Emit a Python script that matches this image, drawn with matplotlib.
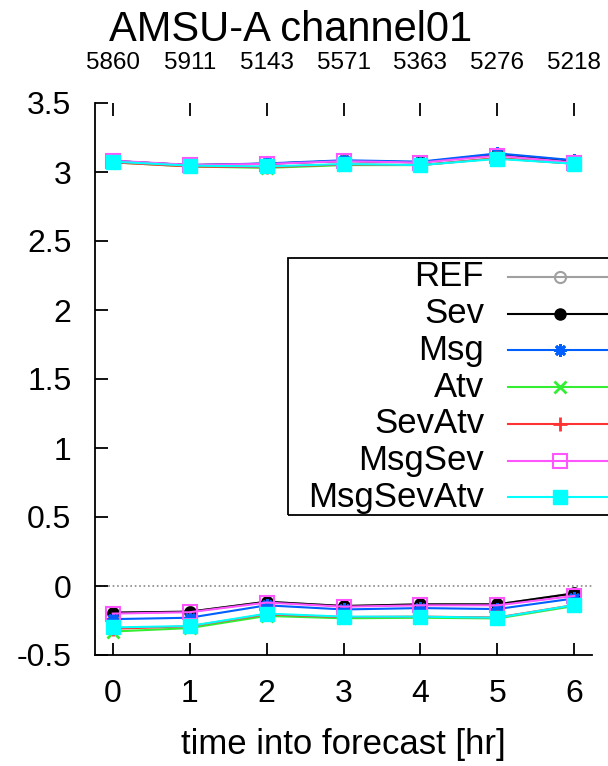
import matplotlib
matplotlib.use("Agg")
import matplotlib.pyplot as plt
from matplotlib.lines import Line2D
from matplotlib.patches import Rectangle

plt.rcParams['font.family'] = ['Liberation Sans', 'DejaVu Sans']

# forecast hours and observation counts (top axis)
hours = [0, 1, 2, 3, 4, 5, 6]
counts = ['5860', '5911', '5143', '5571', '5363', '5276', '5218']

names = ['REF', 'Sev', 'Msg', 'Atv', 'SevAtv', 'MsgSev', 'MsgSevAtv']
colors = ['#a0a0a0', '#000000', '#0060ff', '#33ee33', '#ff3333', '#ff55ff', '#00ffff']

# upper curves (one per experiment)
upper = {
    'REF':       [3.080, 3.050, 3.060, 3.080, 3.070, 3.130, 3.080],
    'Sev':       [3.080, 3.050, 3.060, 3.080, 3.070, 3.130, 3.080],
    'Msg':       [3.080, 3.050, 3.062, 3.085, 3.075, 3.135, 3.085],
    'Atv':       [3.070, 3.040, 3.030, 3.050, 3.050, 3.100, 3.060],
    'SevAtv':    [3.070, 3.040, 3.035, 3.055, 3.050, 3.100, 3.060],
    'MsgSev':    [3.082, 3.052, 3.058, 3.078, 3.068, 3.118, 3.068],
    'MsgSevAtv': [3.075, 3.046, 3.040, 3.058, 3.050, 3.095, 3.060],
}

# lower curves
lower = {
    'REF':       [-0.193, -0.186, -0.114, -0.145, -0.133, -0.133, -0.053],
    'Sev':       [-0.193, -0.186, -0.114, -0.145, -0.133, -0.133, -0.053],
    'Msg':       [-0.240, -0.230, -0.140, -0.170, -0.160, -0.167, -0.090],
    'Atv':       [-0.330, -0.305, -0.217, -0.234, -0.230, -0.235, -0.145],
    'SevAtv':    [-0.310, -0.292, -0.205, -0.225, -0.222, -0.228, -0.138],
    'MsgSev':    [-0.200, -0.190, -0.120, -0.150, -0.140, -0.140, -0.072],
    'MsgSevAtv': [-0.300, -0.290, -0.200, -0.222, -0.222, -0.230, -0.138],
}

styles = {
    'REF':       dict(marker='o', mfc='none', ms=8, mew=1.5),
    'Sev':       dict(marker='o', ms=8),
    'Msg':       dict(marker=(8, 2, 0), ms=9, mew=2),
    'Atv':       dict(marker='x', ms=9, mew=2),
    'SevAtv':    dict(marker='+', ms=10, mew=2),
    'MsgSev':    dict(marker='s', mfc='none', ms=10, mew=1.5),
    'MsgSevAtv': dict(marker='s', ms=10),
}

W, H = 608, 766
fig = plt.figure(figsize=(W / 100, H / 100), dpi=100)
ax = fig.add_axes([95 / W, 1 - 655 / H, (592 - 95) / W, (655 - 103) / H])

for name, c in zip(names, colors):
    ax.plot(hours, upper[name], color=c, lw=1.5, **styles[name])
    ax.plot(hours, lower[name], color=c, lw=1.5, **styles[name])

ax.axhline(0, color='#888888', ls=':', lw=1.2, zorder=0)

ax.set_xlim(-0.23, 6.23)
ax.set_ylim(-0.5, 3.5)
ax.set_xticks(hours)
ax.set_yticks([-0.5, 0, 0.5, 1, 1.5, 2, 2.5, 3, 3.5])
ax.set_yticklabels(['-0.5', '0', '0.5', '1', '1.5', '2', '2.5', '3', '3.5'])
ax.spines['top'].set_visible(False)
ax.spines['right'].set_visible(False)
for s in ['left', 'bottom']:
    ax.spines[s].set_linewidth(1.3)
ax.tick_params(direction='in', length=9, width=1.3, labelsize=23, pad=17)
ax.set_xlabel('time into forecast [hr]', fontsize=25, labelpad=14)

top = ax.secondary_xaxis('top')
top.set_xticks(hours)
top.set_xticklabels(counts)
top.spines['top'].set_visible(False)
top.tick_params(direction='in', length=9, width=1.3, labelsize=17.5, pad=21)

fig.text(291 / W, 1 - 30 / H, 'AMSU-A channel01', fontsize=30,
         ha='center', va='center')

# legend drawn by hand: text on the left, right aligned, handle on the right
fig.add_artist(Rectangle((288 / W, 1 - 515 / H), (620 - 288) / W, (515 - 258) / H,
                         transform=fig.transFigure, fill=False, lw=1.3,
                         edgecolor='black'))
for i, (name, c) in enumerate(zip(names, colors)):
    yy = 1 - (277 + i * 36.7) / H
    fig.text(484 / W, yy, name, fontsize=25, ha='right', va='center')
    fig.add_artist(Line2D([508 / W, 612 / W], [yy, yy], transform=fig.transFigure,
                          color=c, lw=1.5))
    fig.add_artist(Line2D([560 / W], [yy], transform=fig.transFigure,
                          color=c, lw=0, **styles[name]))

fig.savefig('out.png', dpi=100)
